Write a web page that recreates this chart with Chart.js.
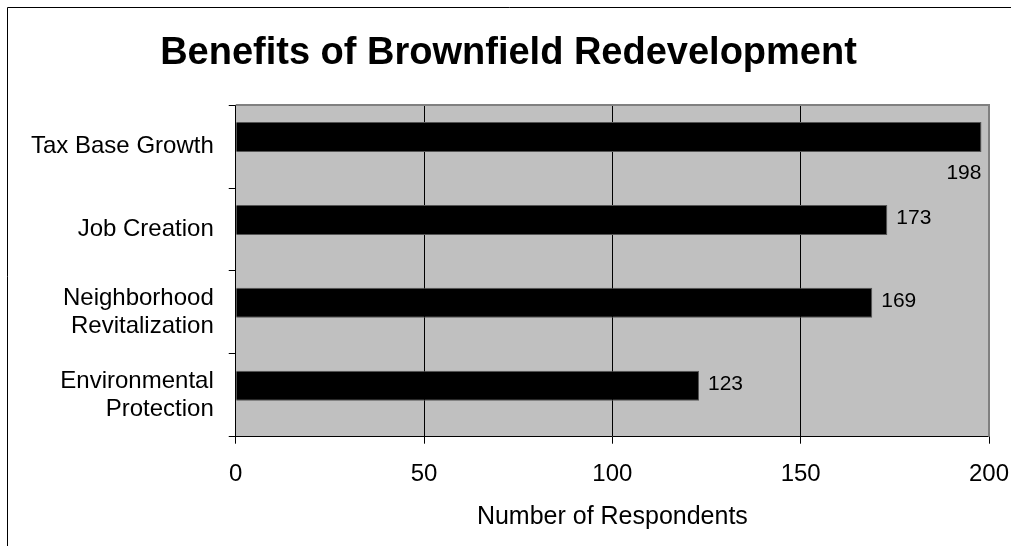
<!DOCTYPE html>
<html>
<head>
<meta charset="utf-8">
<script src="https://cdn.jsdelivr.net/npm/chart.js@4"></script>
<style>
  html, body { margin: 0; padding: 0; background: #fff; }
  #wrap { position: relative; width: 1011px; height: 546px; }
</style>
</head>
<body>
<div id="wrap">
  <canvas id="chart"></canvas>
</div>
<script>
// Survey data
const categories = [
    'Tax Base Growth',
    'Job Creation',
    ['Neighborhood', 'Revitalization'],
    ['Environmental', 'Protection']
];
const respondents = [198, 173, 169, 123];
// the original spreadsheet reserves a slot for a second, empty series
const emptySeries = [];
const xTicks = [0, 50, 100, 150, 200];

const FONT = "'Liberation Sans', Arial, Helvetica, sans-serif";

// grey plot area with a dark grey frame on top and right, plus the outer frame
const plotBackground = {
    id: 'plotBackground',
    beforeDraw(chart) {
        const { ctx, chartArea: a, width, height } = chart;
        ctx.save();
        ctx.strokeStyle = '#000';
        ctx.lineWidth = 1;
        ctx.beginPath();
        ctx.moveTo(7.5, height);
        ctx.lineTo(7.5, 7.5);
        ctx.lineTo(width, 7.5);
        ctx.stroke();
        ctx.fillStyle = '#c0c0c0';
        ctx.fillRect(a.left, a.top, a.right - a.left, a.bottom - a.top);
        ctx.restore();
    },
    beforeDatasetsDraw(chart) {
        const { ctx, chartArea: a } = chart;
        ctx.save();
        ctx.strokeStyle = '#808080';
        ctx.lineWidth = 2;
        ctx.beginPath();
        ctx.moveTo(a.left, a.top);
        ctx.lineTo(a.right, a.top);
        ctx.lineTo(a.right, a.bottom);
        ctx.stroke();
        ctx.restore();
    }
};

// value labels next to each bar (under the bar when it would not fit)
const valueLabels = {
    id: 'valueLabels',
    afterDatasetsDraw(chart) {
        const { ctx, chartArea: a } = chart;
        const meta = chart.getDatasetMeta(0);
        ctx.save();
        ctx.font = '21px ' + FONT;
        ctx.fillStyle = '#000';
        ctx.textBaseline = 'middle';
        meta.data.forEach((bar, i) => {
            const text = String(respondents[i]);
            const w = ctx.measureText(text).width;
            if (bar.x + 9 + w > a.right) {
                ctx.textAlign = 'right';
                ctx.fillText(text, bar.x, bar.y + bar.height / 2 + 21);
            } else {
                ctx.textAlign = 'left';
                ctx.fillText(text, bar.x + 9, bar.y - 2);
            }
        });
        ctx.restore();
    }
};

new Chart(document.getElementById('chart'), {
    type: 'bar',
    data: {
        labels: categories,
        datasets: [{
            label: 'Respondents',
            data: respondents,
            backgroundColor: '#000',
            borderColor: '#555',
            borderWidth: 1,
            categoryPercentage: 0.458,
            barPercentage: 1.58
        }, {
            label: '',
            data: emptySeries,
            backgroundColor: '#000',
            categoryPercentage: 0.458,
            barPercentage: 1.58
        }]
    },
    options: {
        indexAxis: 'y',
        responsive: true,
        maintainAspectRatio: false,
        animation: false,
        layout: { padding: { left: 16, right: 10, top: 0, bottom: 0 } },
        scales: {
            x: {
                min: 0,
                max: 200,
                afterBuildTicks(scale) {
                    scale.ticks = xTicks.map(v => ({ value: v }));
                },
                // keep the plot's right edge where the original has it
                afterFit(scale) {
                    scale.paddingRight = 22;
                },
                grid: {
                    color: '#000',
                    lineWidth: 1,
                    tickLength: 7,
                    drawOnChartArea: true
                },
                border: { color: '#000', width: 1 },
                ticks: {
                    color: '#000',
                    padding: 16,
                    font: { family: FONT, size: 24 }
                },
                title: {
                    display: true,
                    text: 'Number of Respondents',
                    color: '#000',
                    font: { family: FONT, size: 25, lineHeight: 1 },
                    padding: { top: 0, bottom: 16.5 }
                }
            },
            y: {
                grid: {
                    offset: true,
                    drawOnChartArea: false,
                    color: '#000',
                    tickLength: 7
                },
                border: { color: '#000', width: 1 },
                ticks: {
                    color: '#000',
                    padding: 15,
                    font: { family: FONT, size: 24, lineHeight: 1.17 }
                }
            }
        },
        plugins: {
            legend: { display: false },
            tooltip: { enabled: false },
            title: {
                display: true,
                text: 'Benefits of Brownfield Redevelopment',
                color: '#000',
                font: { family: FONT, size: 38, weight: 'bold', lineHeight: 1.2 },
                padding: { top: 30.5, bottom: 29 }
            }
        }
    },
    plugins: [plotBackground, valueLabels]
});
</script>
</body>
</html>
